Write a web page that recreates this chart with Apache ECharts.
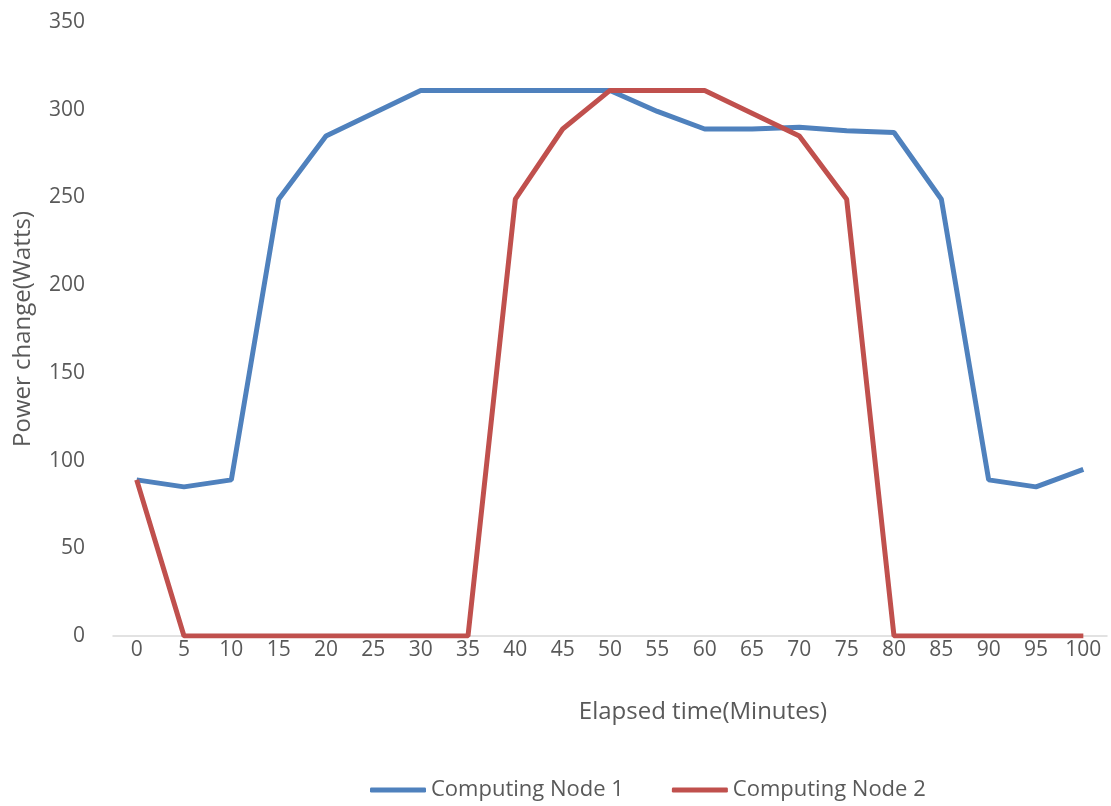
<!DOCTYPE html>
<html><head><meta charset="utf-8">
<script src="https://cdn.jsdelivr.net/npm/echarts@6/dist/echarts.min.js"></script>
<style>html,body{margin:0;padding:0;background:#fff}#c{width:1111px;height:806px}</style>
</head><body><div id="c"></div>
<script>
const categories = ['0','5','10','15','20','25','30','35','40','45','50','55','60','65','70','75','80','85','90','95','100'];
const node1 = [89,85,89,249,285,298,311,311,311,311,311,299,289,289,290,288,287,249,89,85,95];
const node2 = [89,0,0,0,0,0,0,0,249,289,311,311,311,298,285,249,0,0,0,0,0];
const yTicks = {min:0, max:350, interval:50};
const font = 'Open Sans, sans-serif';
const chart = echarts.init(document.getElementById('c'));
chart.setOption({
  animation:false,
  grid:{left:113,right:4,top:22,bottom:170},
  legend:{top:774,left:365,itemWidth:56,itemHeight:5,itemGap:48,
    textStyle:{fontFamily:font,fontSize:22,color:'#595959'},
    data:[{name:'Computing Node 1',icon:'roundRect'},{name:'Computing Node 2',icon:'roundRect'}]},
  xAxis:{type:'category',data:categories,boundaryGap:true,
    name:'Elapsed time(Minutes)',nameLocation:'middle',nameGap:64,
    nameTextStyle:{fontFamily:font,fontSize:24,color:'#595959',padding:[0,0,0,186]},
    axisLine:{lineStyle:{color:'#d9d9d9',width:1.5}},axisTick:{show:false},
    axisLabel:{fontFamily:font,fontSize:21,color:'#595959',margin:4,interval:0}},
  yAxis:{type:'value',min:yTicks.min,max:yTicks.max,interval:yTicks.interval,
    name:'Power change(Watts)',nameLocation:'middle',nameGap:78,
    nameTextStyle:{fontFamily:font,fontSize:24,color:'#595959'},
    axisLine:{show:false},axisTick:{show:false},splitLine:{show:false},
    axisLabel:{fontFamily:font,fontSize:21,color:'#595959',margin:28}},
  series:[
    {name:'Computing Node 1',type:'line',data:node1,symbol:'none',color:'#4F81BD',lineStyle:{width:5,color:'#4F81BD'}},
    {name:'Computing Node 2',type:'line',data:node2,symbol:'none',color:'#C0504D',lineStyle:{width:5,color:'#C0504D'}}
  ]
});
</script></body></html>
